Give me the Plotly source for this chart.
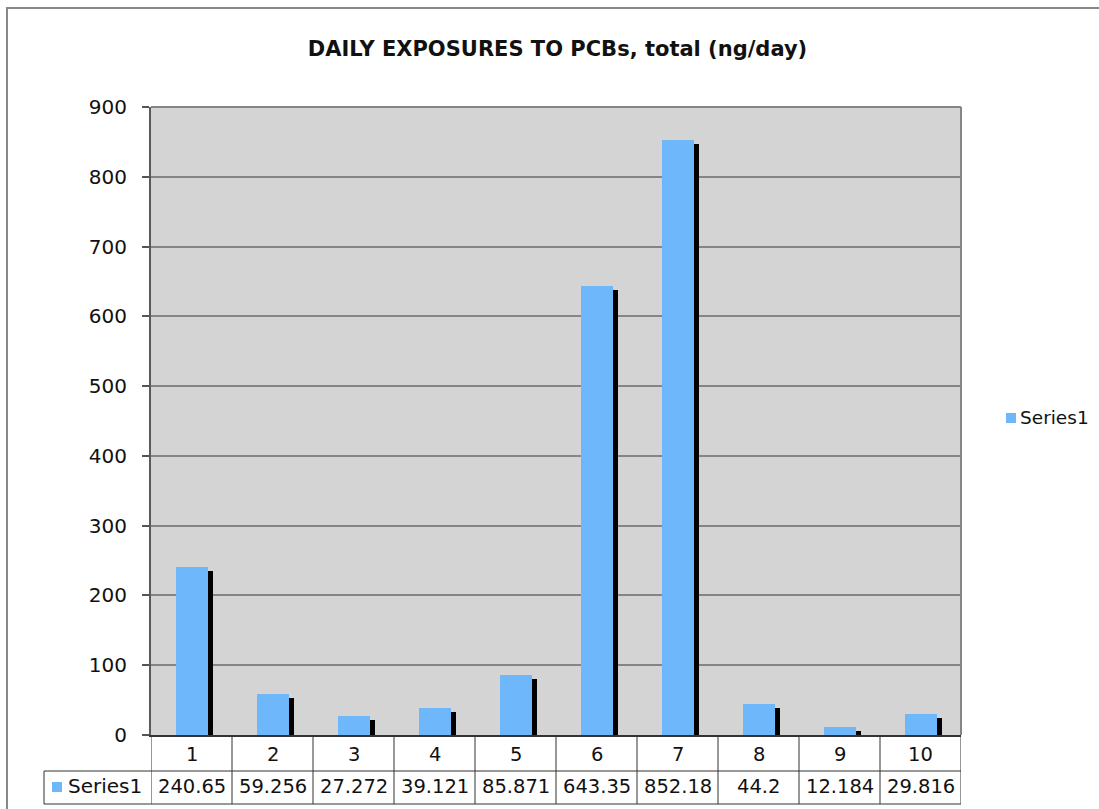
import plotly.graph_objects as go

# ---- data ----
categories = ["1", "2", "3", "4", "5", "6", "7", "8", "9", "10"]
values = [240.65, 59.256, 27.272, 39.121, 85.871, 643.35, 852.18, 44.2, 12.184, 29.816]
value_labels = ["240.65", "59.256", "27.272", "39.121", "85.871", "643.35", "852.18", "44.2", "12.184", "29.816"]
series_name = "Series1"
y_ticks = [0, 100, 200, 300, 400, 500, 600, 700, 800, 900]

# ---- layout geometry (pixels) ----
W, H = 1099, 809
L, R, T, B = 151, 961, 107, 735          # plot area
PW, PH = R - L, B - T
YMAX = 900

def px(xp):
    return (xp - L) / PW

def py(yp):
    return (B - yp) / PH

FONT = "DejaVu Sans"
BLUE = "#6fb7fb"

n = len(categories)
cat_w = PW / n
bar_w = 32 / cat_w
shadow_dx = 5 / cat_w
shadow_dy = 4 * YMAX / PH
shadow_vals = [max(v - shadow_dy, 0) for v in values]

fig = go.Figure()
# drop shadow
fig.add_trace(go.Bar(
    x=list(range(n)), y=shadow_vals, width=bar_w, offset=-bar_w / 2 + shadow_dx,
    marker=dict(color="black", line=dict(width=0)), showlegend=False, hoverinfo="skip"))
# main bars
fig.add_trace(go.Bar(
    x=list(range(n)), y=values, width=bar_w, offset=-bar_w / 2,
    marker=dict(color=BLUE, line=dict(width=0)), name=series_name, showlegend=False))

shapes = []
# outer chart border
shapes.append(dict(type="rect", xref="paper", yref="paper",
                   x0=px(7), x1=px(1130), y0=py(8), y1=py(850),
                   line=dict(color="#888888", width=2), fillcolor="rgba(0,0,0,0)", layer="below"))
# plot area top/right border
shapes.append(dict(type="line", xref="paper", yref="paper", x0=0, x1=1, y0=1, y1=1,
                   line=dict(color="#858585", width=2)))
shapes.append(dict(type="line", xref="paper", yref="paper", x0=1, x1=1, y0=0, y1=1,
                   line=dict(color="#858585", width=2)))

# data table lines
row1_bot, row2_bot, leg_left = 771, 804, 44
tbl_col = "#333333"
for k in range(n + 1):
    shapes.append(dict(type="line", xref="x", yref="paper", x0=k - 0.5, x1=k - 0.5,
                       y0=py(B), y1=py(row2_bot), line=dict(color=tbl_col, width=1)))
shapes.append(dict(type="line", xref="paper", yref="paper", x0=px(leg_left), x1=1,
                   y0=py(row1_bot), y1=py(row1_bot), line=dict(color=tbl_col, width=1)))
shapes.append(dict(type="line", xref="paper", yref="paper", x0=px(leg_left), x1=1,
                   y0=py(row2_bot), y1=py(row2_bot), line=dict(color=tbl_col, width=1)))
shapes.append(dict(type="line", xref="paper", yref="paper", x0=px(leg_left), x1=px(leg_left),
                   y0=py(row1_bot), y1=py(row2_bot), line=dict(color=tbl_col, width=1)))
# legend key inside table
shapes.append(dict(type="rect", xref="paper", yref="paper", x0=px(52), x1=px(62),
                   y0=py(792), y1=py(782), line=dict(width=0), fillcolor=BLUE))
# legend key at right
shapes.append(dict(type="rect", xref="paper", yref="paper", x0=px(1006), x1=px(1016),
                   y0=py(423), y1=py(413), line=dict(width=0), fillcolor=BLUE))

annotations = []
for i, c in enumerate(categories):
    annotations.append(dict(x=i, y=py(754), xref="x", yref="paper", text=c, showarrow=False,
                            font=dict(family=FONT, size=19.5, color="#111"),
                            xanchor="center", yanchor="middle"))
    annotations.append(dict(x=i, y=py(786), xref="x", yref="paper", text=value_labels[i],
                            showarrow=False, font=dict(family=FONT, size=19.5, color="#111"),
                            xanchor="center", yanchor="middle"))
annotations.append(dict(x=px(66), y=py(786), xref="paper", yref="paper", text=series_name,
                        showarrow=False, font=dict(family=FONT, size=20, color="#111"),
                        xanchor="left", yanchor="middle"))
annotations.append(dict(x=px(1018), y=py(418), xref="paper", yref="paper", text=series_name,
                        showarrow=False, font=dict(family=FONT, size=18.5, color="#111"),
                        xanchor="left", yanchor="middle"))

fig.update_layout(
    width=W, height=H,
    margin=dict(l=L, r=W - R, t=T, b=H - B, pad=0),
    paper_bgcolor="white", plot_bgcolor="#d4d4d4",
    barmode="overlay", bargap=0,
    showlegend=False,
    title=dict(text="<b>DAILY EXPOSURES TO PCBs, total (ng/day)</b>",
               x=557.5 / W, xanchor="center", y=1 - 49 / H, yanchor="middle",
               xref="container", yref="container",
               font=dict(family=FONT, size=21, color="#111")),
    xaxis=dict(range=[-0.5, n - 0.5], showticklabels=False, ticks="", showgrid=False,
               zeroline=False, showline=True, linecolor="#333333", linewidth=1.5),
    yaxis=dict(range=[0, YMAX], tickvals=y_ticks, ticks="outside", ticklen=7,
               tickcolor="#555555", tickwidth=1.5, showline=True, linecolor="#5a5a5a",
               linewidth=2, showgrid=True, gridcolor="#858585", gridwidth=1.5,
               zeroline=False, ticklabelstandoff=11,
               tickfont=dict(family=FONT, size=20, color="#111")),
    shapes=shapes, annotations=annotations,
)

fig.write_html("out.html", config={"displayModeBar": False},
               post_script="document.body.style.margin='0';")
